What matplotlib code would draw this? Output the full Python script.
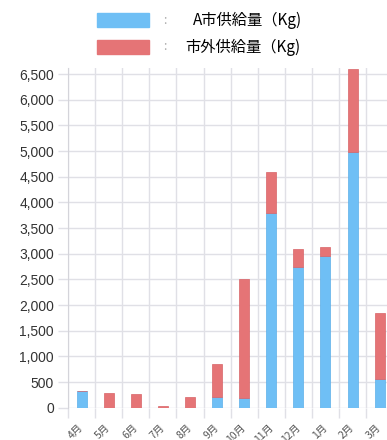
import matplotlib.pyplot as plt
from matplotlib.patches import Rectangle
from matplotlib.ticker import FuncFormatter, FixedLocator

plt.rcParams['font.family'] = ['Noto Sans CJK JP', 'DejaVu Sans']

months = ['4月', '5月', '6月', '7月', '8月', '9月', '10月', '11月', '12月', '1月', '2月', '3月']
a_city = [330, 0, 0, 0, 0, 200, 190, 3790, 2750, 2960, 4990, 560]
outside = [0, 290, 260, 40, 210, 660, 2320, 800, 350, 170, 1600, 1290]
yticks = list(range(0, 7000, 500))

blue = "#6fbff5"
red = "#e57476"
grid = "#e0e0e6"

fig = plt.figure(figsize=(3.87, 4.4), dpi=100)
ax = fig.add_axes([68 / 387, 1 - 407.7 / 440, 1 - 68 / 387, (407.7 - 68) / 440])

x = list(range(len(months)))
ax.bar(x, a_city, width=0.37, color=blue, edgecolor="#5cafe8", linewidth=0.5, zorder=3)
ax.bar(x, outside, bottom=a_city, width=0.37, color=red, edgecolor="#d86468",
       linewidth=0.5, zorder=3)

ax.set_xlim(-0.5, 11.27)
ax.set_ylim(0, 6617)

# boundaries between months carry the grid, centres carry the labels
ax.xaxis.set_major_locator(FixedLocator([i - 0.5 for i in range(13)]))
ax.xaxis.set_minor_locator(FixedLocator(x))
ax.set_xticklabels([])
ax.set_xticklabels(months, minor=True, rotation=45, ha='right', va='center',
                   rotation_mode='anchor', fontsize=7.5, color='#555555')
ax.tick_params(axis='x', which='major', length=7, width=1, color=grid)
ax.tick_params(axis='x', which='minor', length=0, pad=13)

ax.set_yticks(yticks)
ax.yaxis.set_major_formatter(FuncFormatter(lambda v, p: f"{int(v):,}"))
ax.tick_params(axis='y', length=7, width=1, color=grid, labelsize=10,
               labelcolor='#333333', pad=3)
for lab in ax.get_yticklabels():
    lab.set_family(['Liberation Sans', 'DejaVu Sans'])

ax.grid(True, color=grid, linewidth=1, zorder=0)
for s in ['top', 'right', 'bottom']:
    ax.spines[s].set_visible(False)
ax.spines['left'].set_color('#d4d4da')

# legend drawn by hand above the plot
fig.patches.append(Rectangle((97 / 387, 1 - 27 / 440), 52 / 387, 14 / 440,
                             transform=fig.transFigure, color=blue))
fig.patches.append(Rectangle((97 / 387, 1 - 54 / 440), 52 / 387, 14 / 440,
                             transform=fig.transFigure, color=red))
fig.text(165 / 387, 1 - 20 / 440, ":", ha='center', va='center', fontsize=9, color='#aaaaaa')
fig.text(165 / 387, 1 - 47 / 440, ":", ha='center', va='center', fontsize=9, color='#aaaaaa')
fig.text(193 / 387, 1 - 20 / 440, "A市供給量（Kg)", ha='left', va='center', fontsize=11)
fig.text(185 / 387, 1 - 47 / 440, "市外供給量（Kg)", ha='left', va='center', fontsize=11)

fig.savefig("out.png", dpi=100)
